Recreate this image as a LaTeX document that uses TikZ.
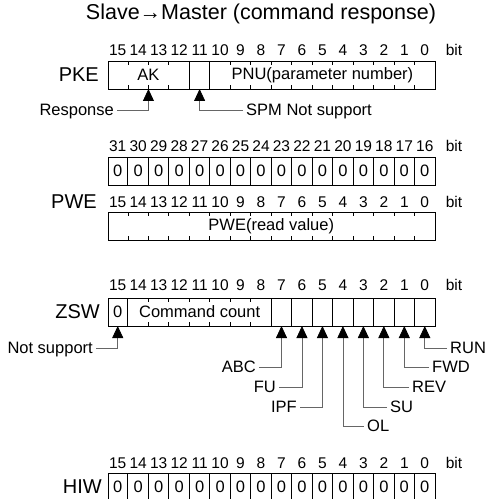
\documentclass[tikz,border=0pt]{standalone}
\usepackage{fontspec}
\setmainfont{Liberation Sans}
\usetikzlibrary{arrows.meta}
\begin{document}
\begin{tikzpicture}[x=1bp,y=-1bp,
  titlelab/.style={font=\fontsize{21.5bp}{21.5bp}\selectfont, inner sep=0pt},
  bitlab/.style={font=\fontsize{15.5bp}{15.5bp}\selectfont, inner sep=0pt},
  rowlab/.style={font=\fontsize{20bp}{20bp}\selectfont, inner sep=0pt, anchor=east},
  celltext/.style={font=\fontsize{16.5bp}{16.5bp}\selectfont, inner sep=0pt},
  lab/.style={font=\fontsize{16.5bp}{16.5bp}\selectfont, inner xsep=3bp, inner ysep=0pt, text height=11.5bp, text depth=0pt},
  regbox/.style={draw, line width=1.4bp, minimum width=327.5bp, minimum height=28bp, inner sep=0pt, anchor=north west},
  divider/.style={line width=1bp},
  tickmark/.style={line width=0.9bp},
  conn/.style={draw=black!60, line width=0.8bp, -{Triangle[length=12bp,width=11bp,color=black]}},
]
\useasboundingbox (0,0) rectangle (486,499);
\clip (0,0) rectangle (486,499);
\def\X{107.5}
\def\W{20.47}

% title
\node[titlelab] (title) at (261,14) {Slave→Master (command response)};

% ---------------- PKE ----------------
\foreach \k in {0,...,15}{\pgfmathtruncatemacro\b{15-\k}
  \node[bitlab] (pkeb\k) at ({\X+\W*(\k+0.5)},50) {\b};}
\node[bitlab] (pkebit) at (454,50) {bit};
\node[rowlab] (pkel) at (99,75) {PKE};
\node[regbox] (pke) at (\X,61) {};
\foreach \k in {1,2,3,6,7,...,15}{
  \draw[tickmark] ({\X+\W*\k},61) -- ++(0,4);
  \draw[tickmark] ({\X+\W*\k},89) -- ++(0,-4);}
\foreach \k in {4,5}{\draw[divider] ({\X+\W*\k},61) -- ({\X+\W*\k},89);}
\node[celltext] (ak) at ({\X+2*\W},75) {AK};
\node[celltext] (pnu) at ({\X+10.5*\W},75) {PNU(parameter number)};
\coordinate (pkeR) at ({\X+2*\W},89);
\coordinate (pkeS) at ({\X+4.5*\W},89);
\node[lab, anchor=east] (resp) at (117,110) {Response};
\node[lab, anchor=west] (spm) at (243,110) {SPM Not support};
\draw[conn] (resp.east) -| (pkeR);
\draw[conn] (spm.west) -| (pkeS);

% ---------------- PWE ----------------
\foreach \k in {0,...,15}{\pgfmathtruncatemacro\b{31-\k}
  \node[bitlab] (pweh\k) at ({\X+\W*(\k+0.5)},146) {\b};}
\node[bitlab] (pwehbit) at (454,146) {bit};
\node[regbox] (pweh) at (\X,157) {};
\foreach \k in {1,...,15}{\draw[divider] ({\X+\W*\k},157) -- ({\X+\W*\k},185);}
\foreach \k in {0,...,15}{\node[celltext] (pwehz\k) at ({\X+\W*(\k+0.5)},171) {0};}

\node[rowlab] (pwel) at (97,202) {PWE};
\foreach \k in {0,...,15}{\pgfmathtruncatemacro\b{15-\k}
  \node[bitlab] (pwel\k) at ({\X+\W*(\k+0.5)},202) {\b};}
\node[bitlab] (pwelbit) at (454,202) {bit};
\node[regbox] (pwe) at (\X,212) {};
\foreach \k in {1,...,15}{
  \draw[tickmark] ({\X+\W*\k},212) -- ++(0,4);
  \draw[tickmark] ({\X+\W*\k},240) -- ++(0,-4);}
\node[celltext] (pwet) at ({\X+8*\W},226) {PWE(read value)};

% ---------------- ZSW ----------------
\foreach \k in {0,...,15}{\pgfmathtruncatemacro\b{15-\k}
  \node[bitlab] (zswb\k) at ({\X+\W*(\k+0.5)},285) {\b};}
\node[bitlab] (zswbit) at (454,285) {bit};
\node[rowlab] (zswl) at (100,312) {ZSW};
\node[regbox] (zsw) at (\X,298) {};
\foreach \k in {2,...,7}{
  \draw[tickmark] ({\X+\W*\k},298) -- ++(0,4);
  \draw[tickmark] ({\X+\W*\k},326) -- ++(0,-4);}
\foreach \k in {1,8,9,...,15}{\draw[divider] ({\X+\W*\k},298) -- ({\X+\W*\k},326);}
\node[celltext] (zsw0) at ({\X+0.5*\W},312) {0};
\node[celltext] (cmd) at ({\X+4.5*\W},312) {Command count};
\foreach \k in {0,8,9,...,15}{\coordinate (zt\k) at ({\X+\W*(\k+0.5)},326);}
\node[lab, anchor=east] (nsup) at (96,348) {Not support};
\node[lab, anchor=east] (abc) at (259,367) {ABC};
\node[lab, anchor=east] (fu) at (279,387) {FU};
\node[lab, anchor=east] (ipf) at (300,407) {IPF};
\node[lab, anchor=west] (ol) at (364,426) {OL};
\node[lab, anchor=west] (su) at (387,407) {SU};
\node[lab, anchor=west] (rev) at (409,387) {REV};
\node[lab, anchor=west] (fwd) at (429,367) {FWD};
\node[lab, anchor=west] (run) at (447,348) {RUN};
\draw[conn] (nsup.east) -| (zt0);
\draw[conn] (abc.east) -| (zt8);
\draw[conn] (fu.east) -| (zt9);
\draw[conn] (ipf.east) -| (zt10);
\draw[conn] (ol.west) -| (zt11);
\draw[conn] (su.west) -| (zt12);
\draw[conn] (rev.west) -| (zt13);
\draw[conn] (fwd.west) -| (zt14);
\draw[conn] (run.west) -| (zt15);

% ---------------- HIW ----------------
\foreach \k in {0,...,15}{\pgfmathtruncatemacro\b{15-\k}
  \node[bitlab] (hiwb\k) at ({\X+\W*(\k+0.5)},463) {\b};}
\node[bitlab] (hiwbit) at (454,463) {bit};
\node[rowlab] (hiwl) at (102,487) {HIW};
\node[regbox] (hiw) at (\X,473) {};
\foreach \k in {1,...,15}{\draw[divider] ({\X+\W*\k},473) -- ({\X+\W*\k},501);}
\foreach \k in {0,...,15}{\node[celltext] (hiwz\k) at ({\X+\W*(\k+0.5)},487) {0};}
\end{tikzpicture}
\end{document}
